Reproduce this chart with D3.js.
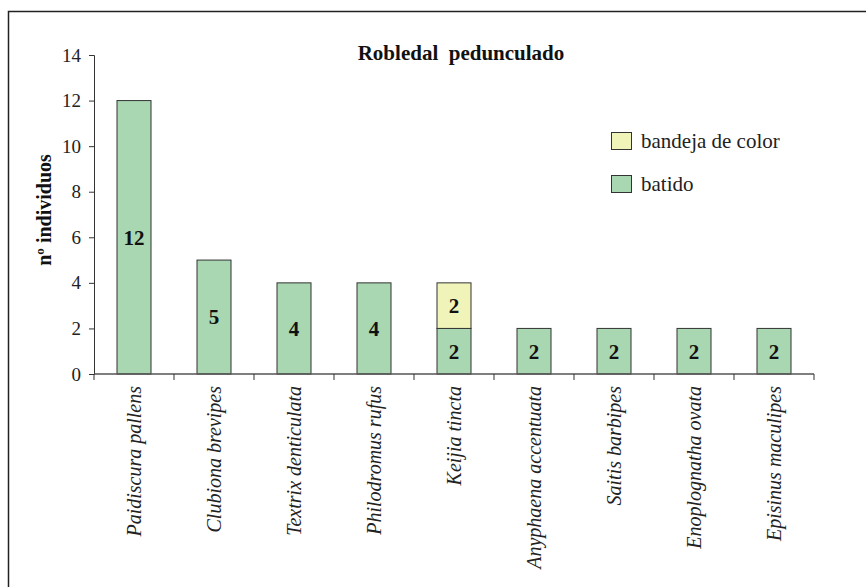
<!DOCTYPE html>
<html><head><meta charset="utf-8">
<script src="https://cdnjs.cloudflare.com/ajax/libs/d3/7.8.5/d3.min.js"></script>
<style>body{margin:0;background:#fff}svg{display:block}</style>
</head><body>
<script>
const categories = ["Paidiscura pallens","Clubiona brevipes","Textrix denticulata","Philodromus rufus","Keijia tincta","Anyphaena accentuata","Saitis barbipes","Enoplognatha ovata","Episinus maculipes"];
const batido = [12,5,4,4,2,2,2,2,2];
const bandeja = [0,0,0,0,2,0,0,0,0];
const seriesNames = ["bandeja de color","batido"];
const yTicks = [0,2,4,6,8,10,12,14];
const title = "Robledal  pedunculado";
const yTitle = "nº individuos";

const W=866,H=587;
const svg=d3.select("body").append("svg").attr("width",W).attr("height",H);
const colors={batido:"#a8d7b2",bandeja:"#f1f4b8"};

svg.append("rect").attr("x",8.5).attr("y",11.5).attr("width",900).attr("height",700)
  .attr("fill","none").attr("stroke","#222").attr("stroke-width",1.5);

const x=d3.scaleBand().domain(categories).range([94,814]).paddingInner(0.575).paddingOuter(0.2875);
const y=d3.scaleLinear().domain([0,14]).range([374,55]);

// y axis
const ya=svg.append("g").attr("transform","translate(94,0)")
  .call(d3.axisLeft(y).tickValues(yTicks).tickSize(5).tickPadding(8).tickFormat(d3.format("d")));
ya.attr("font-family",null);
ya.select(".domain").attr("stroke","#333");
ya.selectAll(".tick line").attr("stroke","#333");
ya.selectAll("text").style("font-size","19px").attr("fill","#222");

// bars
const g=svg.append("g");
function valLabel(cx,cy,v){
  g.append("text").attr("x",cx).attr("y",cy).attr("dy","0.35em")
    .attr("text-anchor","middle").style("font-weight","bold").style("font-size","21px").attr("fill","#111").text(v);
}
categories.forEach((c,i)=>{
  g.append("rect").attr("x",x(c)).attr("width",x.bandwidth()).attr("y",y(batido[i])).attr("height",y(0)-y(batido[i]))
    .attr("fill",colors.batido).attr("stroke","#333").attr("stroke-width",1);
  valLabel(x(c)+x.bandwidth()/2,(y(batido[i])+y(0))/2,batido[i]);
  if(bandeja[i]>0){
    const top=batido[i]+bandeja[i];
    g.append("rect").attr("x",x(c)).attr("width",x.bandwidth()).attr("y",y(top)).attr("height",y(batido[i])-y(top))
      .attr("fill",colors.bandeja).attr("stroke","#333").attr("stroke-width",1);
    valLabel(x(c)+x.bandwidth()/2,(y(top)+y(batido[i]))/2,bandeja[i]);
  }
});

// x axis
const xa=svg.append("g").attr("transform","translate(0,374)");
xa.append("line").attr("x1",94).attr("x2",814).attr("stroke","#555").attr("stroke-width",1.5);
const edges=categories.map(c=>x(c)-x.step()*x.paddingInner()/2).concat([814]);
edges.forEach(e=>xa.append("line").attr("x1",e).attr("x2",e).attr("y1",0).attr("y2",6).attr("stroke","#333"));
categories.forEach(c=>{
  xa.append("text").attr("transform",`translate(${x(c)+x.bandwidth()/2},12) rotate(-90)`)
    .attr("text-anchor","end").attr("dy","0.35em").style("font-style","italic")
    .style("font-size","20px").attr("fill","#222").text(c);
});

// title
svg.append("text").attr("x",461).attr("y",60).attr("text-anchor","middle")
  .style("font-weight","bold").style("font-size","21px").style("white-space","pre").attr("fill","#111").text(title);
// y title
svg.append("text").attr("transform","translate(44,210) rotate(-90)").attr("text-anchor","middle").attr("dy","0.35em")
  .style("font-weight","bold").style("font-size","20px").attr("fill","#111").text(yTitle);

// legend
const lg=svg.append("g");
const legendColors=[colors.bandeja,colors.batido];
seriesNames.forEach((n,i)=>{
  const yy=132+i*43;
  lg.append("rect").attr("x",611.5).attr("y",yy+0.5).attr("width",20).attr("height",17).attr("fill",legendColors[i]).attr("stroke","#333");
  lg.append("text").attr("x",641).attr("y",yy+9).attr("dy","0.35em").style("font-size","21px").attr("fill","#222").text(n);
});

svg.selectAll("text").style("font-family",'"Liberation Serif"');
</script>
</body></html>
